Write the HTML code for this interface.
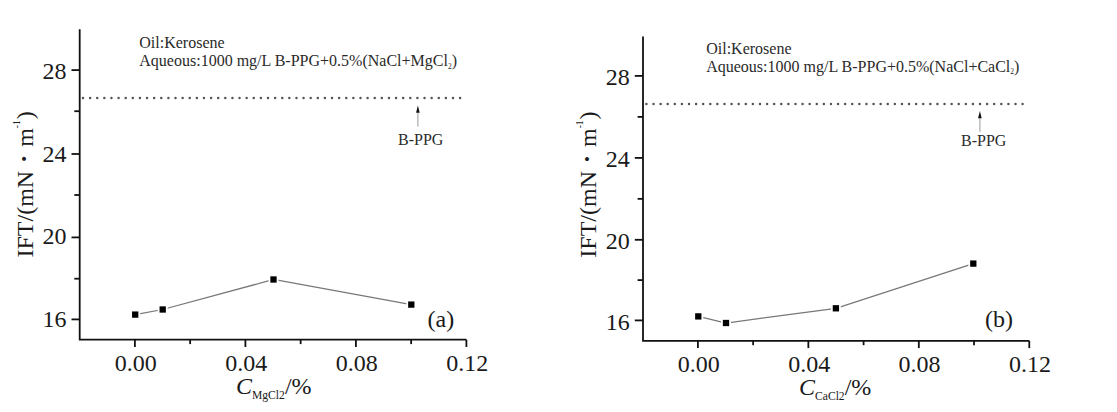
<!DOCTYPE html>
<html><head><meta charset="utf-8"><style>
html,body{margin:0;padding:0;background:#fff;}
svg{display:block;}
text{font-family:"Liberation Serif","Times New Roman",serif;fill:#1a1a1a;}
.t24{font-size:24px;}
.t16{font-size:16.0px;fill:#2a2a2a;}
.t14{font-size:14px;}
.t12{font-size:12px;}
.t10{font-size:10px;}
.t7{font-size:7.5px;}
.t9{font-size:9.5px;}
</style></head><body>
<svg width="1117" height="412" viewBox="0 0 1117 412">
<rect width="1117" height="412" fill="#fff"/>
<path d="M79.7 29.2 V339.7 H466.4" fill="none" stroke="#111" stroke-width="1.8" stroke-linejoin="miter"/>
<line x1="71.5" y1="70.1" x2="79.7" y2="70.1" stroke="#111" stroke-width="1.8"/>
<line x1="71.5" y1="154.0" x2="79.7" y2="154.0" stroke="#111" stroke-width="1.8"/>
<line x1="71.5" y1="237.4" x2="79.7" y2="237.4" stroke="#111" stroke-width="1.8"/>
<line x1="71.5" y1="319.4" x2="79.7" y2="319.4" stroke="#111" stroke-width="1.8"/>
<line x1="74.3" y1="111.2" x2="79.7" y2="111.2" stroke="#111" stroke-width="1.8"/>
<line x1="74.3" y1="195.0" x2="79.7" y2="195.0" stroke="#111" stroke-width="1.8"/>
<line x1="74.3" y1="278.7" x2="79.7" y2="278.7" stroke="#111" stroke-width="1.8"/>
<text x="66.4" y="78.70" text-anchor="end" class="t24">28</text>
<text x="66.4" y="161.55" text-anchor="end" class="t24">24</text>
<text x="66.4" y="244.25" text-anchor="end" class="t24">20</text>
<text x="66.4" y="326.95" text-anchor="end" class="t24">16</text>
<line x1="134.90" y1="339.7" x2="134.90" y2="347.0" stroke="#111" stroke-width="1.8"/>
<text x="135.70" y="370.9" text-anchor="middle" class="t24">0.00</text>
<line x1="190.15" y1="339.7" x2="190.15" y2="344.09999999999997" stroke="#111" stroke-width="1.8"/>
<line x1="245.40" y1="339.7" x2="245.40" y2="347.0" stroke="#111" stroke-width="1.8"/>
<text x="246.20" y="370.9" text-anchor="middle" class="t24">0.04</text>
<line x1="300.65" y1="339.7" x2="300.65" y2="344.09999999999997" stroke="#111" stroke-width="1.8"/>
<line x1="355.90" y1="339.7" x2="355.90" y2="347.0" stroke="#111" stroke-width="1.8"/>
<text x="356.70" y="370.9" text-anchor="middle" class="t24">0.08</text>
<line x1="411.15" y1="339.7" x2="411.15" y2="344.09999999999997" stroke="#111" stroke-width="1.8"/>
<line x1="466.40" y1="339.7" x2="466.40" y2="347.0" stroke="#111" stroke-width="1.8"/>
<text x="467.20" y="370.9" text-anchor="middle" class="t24">0.12</text>
<line x1="83.0" y1="98.0" x2="460.11" y2="98.0" stroke="#555" stroke-width="2.5" stroke-linecap="round" stroke-dasharray="0 7.1151"/>
<line x1="417.9" y1="112.8" x2="417.9" y2="126.5" stroke="#999" stroke-width="1"/>
<path d="M417.9 105.4 L419.7 112.8 L416.09999999999997 112.8 Z" fill="#111"/>
<text x="398.0" y="144.8" class="t16">B-PPG</text>
<text x="139.3" y="48.3" class="t16">Oil:Kerosene</text>
<text x="139.3" y="66.1" class="t16">Aqueous:1000 mg/L B-PPG+0.5%(NaCl+MgCl<tspan class="t7" dy="2.6">2</tspan><tspan dy="-2.6">)</tspan></text>
<polyline points="135.2,314.6 162.7,309.5 273.5,279.5 411.3,304.6" fill="none" stroke="#777" stroke-width="1.25"/>
<rect x="132.05" y="311.45" width="6.3" height="6.3" fill="#000" stroke="#fff" stroke-width="3.6" paint-order="stroke"/>
<rect x="159.55" y="306.35" width="6.3" height="6.3" fill="#000" stroke="#fff" stroke-width="3.6" paint-order="stroke"/>
<rect x="270.35" y="276.35" width="6.3" height="6.3" fill="#000" stroke="#fff" stroke-width="3.6" paint-order="stroke"/>
<rect x="408.15" y="301.45" width="6.3" height="6.3" fill="#000" stroke="#fff" stroke-width="3.6" paint-order="stroke"/>
<text x="427.5" y="327.3" class="t24">(a)</text>
<text transform="translate(33.1,257.5) rotate(-90)" class="t24">IFT/(mN<tspan dx="6.5" dy="2.3" font-size="33">·</tspan><tspan dx="6.5" dy="-2.3">m</tspan><tspan class="t9" dy="-13">-1</tspan><tspan dx="1" dy="13">)</tspan></text>
<text x="236.0" y="394.3" class="t24"><tspan font-style="italic">C</tspan><tspan font-size="11.6" dy="5">MgCl2</tspan><tspan dy="-5">/%</tspan></text>
<path d="M643.0 36.5 V340.8 H1029.3" fill="none" stroke="#111" stroke-width="1.8" stroke-linejoin="miter"/>
<line x1="634.8" y1="75.9" x2="643.0" y2="75.9" stroke="#111" stroke-width="1.8"/>
<line x1="634.8" y1="157.9" x2="643.0" y2="157.9" stroke="#111" stroke-width="1.8"/>
<line x1="634.8" y1="239.8" x2="643.0" y2="239.8" stroke="#111" stroke-width="1.8"/>
<line x1="634.8" y1="320.4" x2="643.0" y2="320.4" stroke="#111" stroke-width="1.8"/>
<line x1="637.6" y1="116.9" x2="643.0" y2="116.9" stroke="#111" stroke-width="1.8"/>
<line x1="637.6" y1="198.85" x2="643.0" y2="198.85" stroke="#111" stroke-width="1.8"/>
<line x1="637.6" y1="280.1" x2="643.0" y2="280.1" stroke="#111" stroke-width="1.8"/>
<text x="629.7" y="85.25" text-anchor="end" class="t24">28</text>
<text x="629.7" y="166.80" text-anchor="end" class="t24">24</text>
<text x="629.7" y="248.80" text-anchor="end" class="t24">20</text>
<text x="629.7" y="329.80" text-anchor="end" class="t24">16</text>
<line x1="697.90" y1="340.8" x2="697.90" y2="348.1" stroke="#111" stroke-width="1.8"/>
<text x="698.70" y="372.0" text-anchor="middle" class="t24">0.00</text>
<line x1="753.13" y1="340.8" x2="753.13" y2="345.2" stroke="#111" stroke-width="1.8"/>
<line x1="808.36" y1="340.8" x2="808.36" y2="348.1" stroke="#111" stroke-width="1.8"/>
<text x="809.16" y="372.0" text-anchor="middle" class="t24">0.04</text>
<line x1="863.59" y1="340.8" x2="863.59" y2="345.2" stroke="#111" stroke-width="1.8"/>
<line x1="918.82" y1="340.8" x2="918.82" y2="348.1" stroke="#111" stroke-width="1.8"/>
<text x="919.62" y="372.0" text-anchor="middle" class="t24">0.08</text>
<line x1="974.05" y1="340.8" x2="974.05" y2="345.2" stroke="#111" stroke-width="1.8"/>
<line x1="1029.28" y1="340.8" x2="1029.28" y2="348.1" stroke="#111" stroke-width="1.8"/>
<text x="1030.08" y="372.0" text-anchor="middle" class="t24">0.12</text>
<line x1="646.4" y1="103.9" x2="1022.61" y2="103.9" stroke="#555" stroke-width="2.5" stroke-linecap="round" stroke-dasharray="0 7.0981"/>
<line x1="979.9" y1="118.2" x2="979.9" y2="131.8" stroke="#999" stroke-width="1"/>
<path d="M979.9 110.9 L981.6999999999999 118.2 L978.1 118.2 Z" fill="#111"/>
<text x="961.0" y="145.7" class="t16">B-PPG</text>
<text x="706.2" y="54.1" class="t16">Oil:Kerosene</text>
<text x="706.2" y="71.7" class="t16">Aqueous:1000 mg/L B-PPG+0.5%(NaCl+CaCl<tspan class="t7" dy="2.6">2</tspan><tspan dy="-2.6">)</tspan></text>
<polyline points="698.3,316.4 726.0,323.0 835.9,308.3 973.3,263.6" fill="none" stroke="#777" stroke-width="1.25"/>
<rect x="695.15" y="313.25" width="6.3" height="6.3" fill="#000" stroke="#fff" stroke-width="3.6" paint-order="stroke"/>
<rect x="722.85" y="319.85" width="6.3" height="6.3" fill="#000" stroke="#fff" stroke-width="3.6" paint-order="stroke"/>
<rect x="832.75" y="305.15" width="6.3" height="6.3" fill="#000" stroke="#fff" stroke-width="3.6" paint-order="stroke"/>
<rect x="970.15" y="260.45" width="6.3" height="6.3" fill="#000" stroke="#fff" stroke-width="3.6" paint-order="stroke"/>
<text x="985.0" y="326.8" class="t24">(b)</text>
<text transform="translate(596.1,257.7) rotate(-90)" class="t24">IFT/(mN<tspan dx="6.5" dy="2.3" font-size="33">·</tspan><tspan dx="6.5" dy="-2.3">m</tspan><tspan class="t9" dy="-13">-1</tspan><tspan dx="1" dy="13">)</tspan></text>
<text x="799.0" y="395.2" class="t24"><tspan font-style="italic">C</tspan><tspan font-size="11.6" dy="5">CaCl2</tspan><tspan dy="-5">/%</tspan></text>
</svg>
</body></html>
